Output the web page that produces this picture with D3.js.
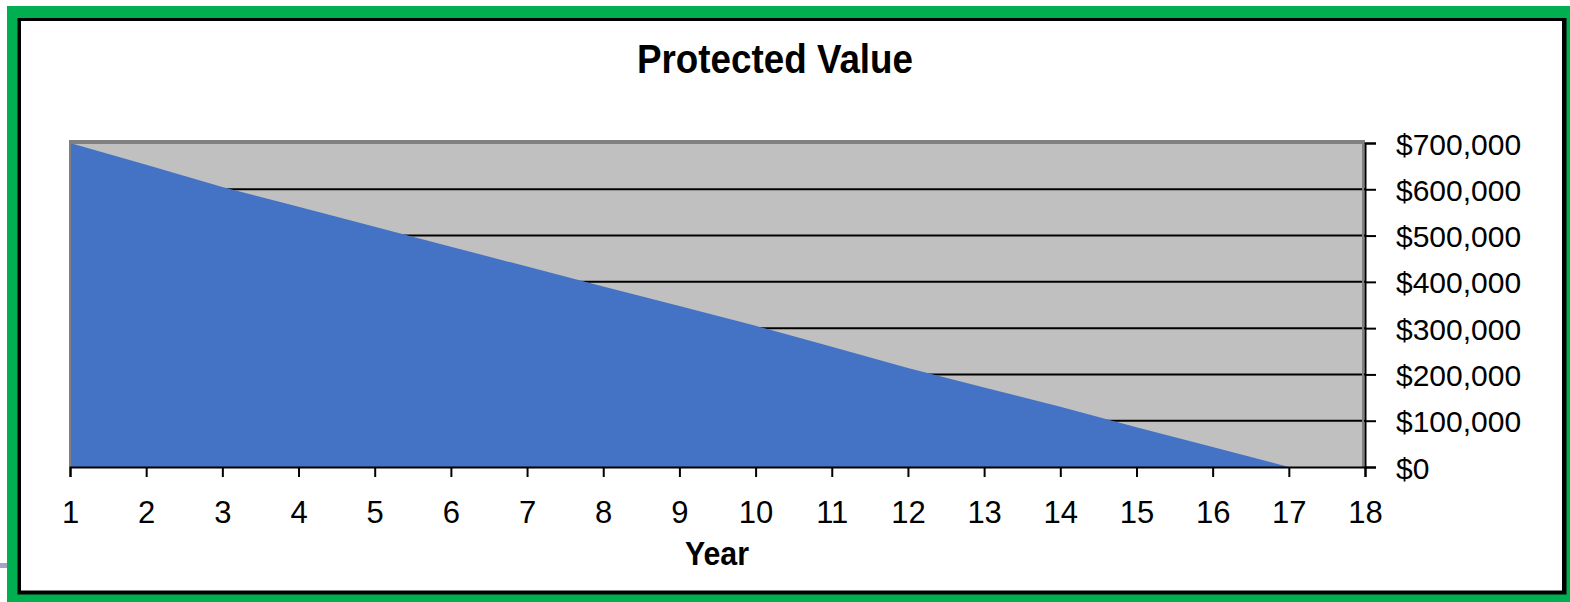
<!DOCTYPE html>
<html>
<head>
<meta charset="utf-8">
<script src="https://cdn.jsdelivr.net/npm/d3@7"></script>
<style>
  html, body { margin: 0; padding: 0; background: #ffffff; }
  svg { display: block; }
  text { font-family: "Liberation Sans", Arial, sans-serif; fill: #000; }
</style>
</head>
<body>
<svg id="chart" width="1570" height="602"></svg>
<script>
// Protected value by policy year
const years = [1, 2, 3, 4, 5, 6, 7, 8, 9, 10, 11, 12, 13, 14, 15, 16, 17];
const protectedValue = [700000, 653000, 605000, 562000, 519000, 476000, 433000, 390000,
                        348000, 305000, 260000, 214000, 172000, 130000, 86000, 43000, 0];
const xTickValues = [1, 2, 3, 4, 5, 6, 7, 8, 9, 10, 11, 12, 13, 14, 15, 16, 17, 18];
const yTickValues = [0, 100000, 200000, 300000, 400000, 500000, 600000, 700000];
const chartTitle = "Protected Value";
const xTitle = "Year";

const svg = d3.select("#chart");

// frame: green outer band, black rule, white panel
svg.append("rect").attr("x", 0).attr("y", 0).attr("width", 1570).attr("height", 602).attr("fill", "#ffffff");
svg.append("rect").attr("x", 0).attr("y", 563).attr("width", 7).attr("height", 5).attr("fill", "#a2a5c6");
svg.append("rect").attr("x", 7).attr("y", 6).attr("width", 1563).attr("height", 596).attr("fill", "#00b050");
svg.append("rect").attr("x", 17.5).attr("y", 18).attr("width", 1549).attr("height", 576.5).attr("fill", "#000000");
svg.append("rect").attr("x", 21).attr("y", 21).attr("width", 1541).attr("height", 569.5).attr("fill", "#ffffff");

const plotLeft = 70, plotRight = 1365, plotTop = 143, plotBottom = 467;
const x = d3.scaleLinear().domain([1, 18]).range([plotLeft, plotRight]);
const y = d3.scaleLinear().domain([0, 700000]).range([plotBottom, plotTop]);

// plot background
svg.append("rect")
  .attr("x", plotLeft).attr("y", plotTop)
  .attr("width", plotRight - plotLeft).attr("height", plotBottom - plotTop)
  .attr("fill", "#c0c0c0");

// horizontal gridlines
svg.append("g")
  .selectAll("line")
  .data(yTickValues.filter(v => v > 0 && v < 700000))
  .join("line")
  .attr("x1", plotLeft).attr("x2", plotRight)
  .attr("y1", d => y(d)).attr("y2", d => y(d))
  .attr("stroke", "#000").attr("stroke-width", 2);

// area series
const area = d3.area()
  .x((d, i) => x(years[i]))
  .y0(y(0))
  .y1(d => y(d));
svg.append("path")
  .datum(protectedValue)
  .attr("d", area)
  .attr("fill", "#4472c4");

// plot border (top, left and right edges in gray)
svg.append("line").attr("x1", plotLeft - 1).attr("x2", plotRight).attr("y1", plotTop - 1).attr("y2", plotTop - 1)
  .attr("stroke", "#808080").attr("stroke-width", 4);
svg.append("line").attr("x1", plotLeft).attr("x2", plotLeft).attr("y1", plotTop - 3).attr("y2", plotBottom)
  .attr("stroke", "#808080").attr("stroke-width", 2);
svg.append("line").attr("x1", plotRight - 2).attr("x2", plotRight - 2).attr("y1", plotTop - 3).attr("y2", plotBottom)
  .attr("stroke", "#808080").attr("stroke-width", 2);

// x axis
const xAxis = d3.axisBottom(x).tickValues(xTickValues).tickFormat(d3.format("d")).tickSize(10).tickPadding(22);
const gx = svg.append("g").attr("transform", `translate(0,${plotBottom})`).call(xAxis);
gx.select(".domain").attr("stroke", "#000").attr("stroke-width", 2);
gx.selectAll(".tick line").attr("stroke", "#000").attr("stroke-width", 2);
gx.selectAll(".tick text")
  .attr("font-family", "Liberation Sans, Arial, sans-serif")
  .attr("font-size", 31).attr("fill", "#000")
  .attr("dy", null).attr("y", 56);

// y axis on the right
const money = v => "$" + d3.format(",")(v);
const yAxis = d3.axisRight(y).tickValues(yTickValues).tickFormat(money).tickSize(11).tickPadding(20);
const gy = svg.append("g").attr("transform", `translate(${plotRight},0)`).call(yAxis);
gy.select(".domain").attr("stroke", "#000").attr("stroke-width", 2);
gy.selectAll(".tick line").attr("stroke", "#000").attr("stroke-width", 2);
gy.selectAll(".tick text")
  .attr("font-family", "Liberation Sans, Arial, sans-serif")
  .attr("font-size", 30).attr("fill", "#000")
  .attr("x", 31).attr("dy", null).attr("y", 11);

// titles
svg.append("text")
  .attr("x", 775).attr("y", 73)
  .attr("text-anchor", "middle")
  .attr("font-size", 40).attr("font-weight", "bold")
  .attr("textLength", 276).attr("lengthAdjust", "spacingAndGlyphs")
  .text(chartTitle);

svg.append("text")
  .attr("x", 717).attr("y", 565)
  .attr("text-anchor", "middle")
  .attr("font-size", 34).attr("font-weight", "bold")
  .attr("textLength", 64).attr("lengthAdjust", "spacingAndGlyphs")
  .text(xTitle);
</script>
</body>
</html>
